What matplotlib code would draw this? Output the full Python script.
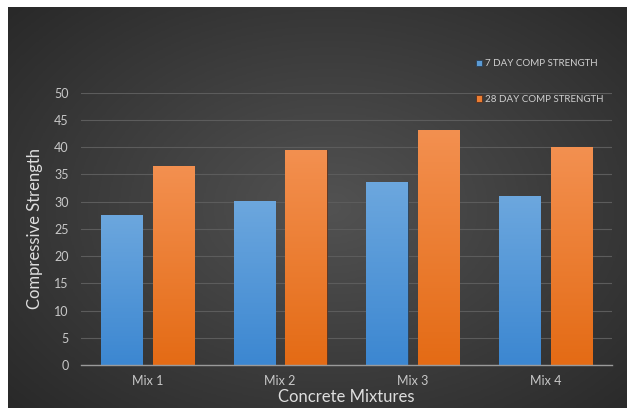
import numpy as np
import matplotlib
matplotlib.use("Agg")
import matplotlib.pyplot as plt
from matplotlib.colors import LinearSegmentedColormap

mixes = ["Mix 1", "Mix 2", "Mix 3", "Mix 4"]
jour7 = [27.6, 30.1, 33.6, 31.0]
jour28 = [36.6, 39.5, 43.2, 40.0]
noms_series = ["7 DAY COMP STRENGTH", "28 DAY COMP STRENGTH"]

plt.rcParams["font.family"] = ["Lato", "DejaVu Sans"]

fig = plt.figure(figsize=(6.27, 4.08), dpi=100)
fig.patch.set_facecolor("white")

# fond sombre avec degrade radial
fond = fig.add_axes([8 / 627, 0, 1 - 8 / 627, 1 - 7 / 408])
fond.set_axis_off()
yy, xx = np.mgrid[0:1:300j, 0:1:460j]
r = np.sqrt(((xx - 0.52) / 0.75) ** 2 + ((yy - 0.5) / 0.8) ** 2)
cmap_fond = LinearSegmentedColormap.from_list("fond", ["#525252", "#3c3c3c", "#262626"])
fond.imshow(r, cmap=cmap_fond, aspect="auto", extent=[0, 1, 0, 1], vmin=0, vmax=1.0)
fond.set_xlim(0, 1)
fond.set_ylim(0, 1)

ax = fig.add_axes([81 / 627, 1 - 365 / 408, 531 / 627, (365 - 92.7) / 408])
ax.set_facecolor("none")

x = np.arange(len(mixes))
largeur = 0.31
barres7 = ax.bar(x - 0.195, jour7, largeur, color="#5b9bd5", zorder=3,
                 edgecolor="#2a3f55", linewidth=0.6, label=noms_series[0])
barres28 = ax.bar(x + 0.195, jour28, largeur, color="#ed7d31", zorder=3,
                  edgecolor="#553020", linewidth=0.6, label=noms_series[1])

# degrade vertical dans chaque barre
grad = np.linspace(1, 0, 100).reshape(-1, 1)
cmap_bleu = LinearSegmentedColormap.from_list("bleu", ["#3c87d1", "#6ca7de"])
cmap_orange = LinearSegmentedColormap.from_list("orange", ["#e46b15", "#f39050"])
for barres, cm in [(barres7, cmap_bleu), (barres28, cmap_orange)]:
    for b in barres:
        x0, y0 = b.get_x(), b.get_y()
        im = ax.imshow(grad, cmap=cm, aspect="auto", zorder=4,
                       extent=[x0, x0 + b.get_width(), y0, y0 + b.get_height()])
        im.set_clip_path(b)

ax.set_xlim(-0.5, 3.5)
ax.set_ylim(0, 50)
ax.set_yticks(range(0, 51, 5))
ax.set_xticks(x)
ax.set_xticklabels(mixes)
ax.grid(axis="y", color="#5c5c5c", linewidth=0.8, zorder=0)
for cote in ["top", "right", "left"]:
    ax.spines[cote].set_visible(False)
ax.spines["bottom"].set_color("#9a9a9a")
ax.spines["bottom"].set_linewidth(1.0)
ax.spines["bottom"].set_zorder(5)
ax.tick_params(axis="both", length=0, colors="#c8c8c8", labelsize=9)
ax.tick_params(axis="y", pad=9)
ax.tick_params(axis="x", pad=7)

ax.set_xlabel("Concrete Mixtures", color="#dedede", fontsize=12, labelpad=2)
ax.set_ylabel("Compressive Strength", color="#dedede", fontsize=12, labelpad=8)

leg = ax.legend(loc="upper left", bbox_to_anchor=(386 / 531, 1.155), frameon=False,
                fontsize=7, labelspacing=2.75, handlelength=0.6, handleheight=0.6,
                handletextpad=0.4, labelcolor="#d0d0d0")

fig.savefig("out.png", dpi=100, facecolor=fig.get_facecolor())
